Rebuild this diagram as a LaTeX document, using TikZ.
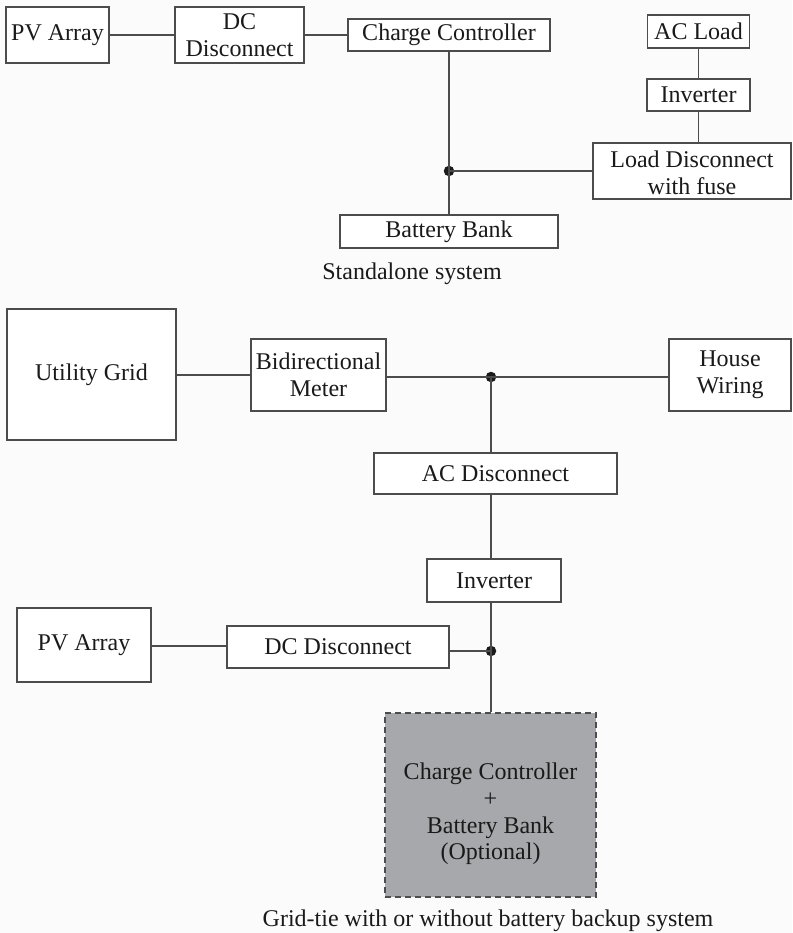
\documentclass[tikz,border=0pt]{standalone}
\usepackage{fontspec}
\setmainfont{Liberation Serif}
\definecolor{wire}{HTML}{4C4C4C}
\definecolor{ink}{HTML}{1A1A1A}
\definecolor{optfill}{HTML}{A7A8AB}
\definecolor{paper}{HTML}{FBFBFB}
\begin{document}
\begin{tikzpicture}[x=1pt,y=-1pt,
  every node/.style={text=ink, font=\fontsize{24}{26.7}\selectfont},
  blk/.style={draw=wire, line width=1.8pt, inner sep=0pt, align=center, fill=white},
  wirestyle/.style={draw=wire, line width=1.8pt},
  junction/.style={circle, fill=ink, inner sep=0pt, minimum size=10.5pt},
  optbox/.style={blk, fill=optfill, dash pattern=on 6pt off 4pt}
]
\fill[paper] (0,0) rectangle (792,933);
\useasboundingbox (0,0) rectangle (792,933);

% ---------- Standalone system ----------
\node[blk, minimum width=103pt, minimum height=56pt] (pv1) at (57.5,35) {PV Array};
\node[blk, minimum width=129pt, minimum height=56pt] (dc1) at (239.5,35) {DC\\Disconnect};
\node[blk, minimum width=202pt, minimum height=32pt] (cc1) at (449,35) {Charge Controller};
\node[blk, minimum width=218pt, minimum height=33pt] (bb1) at (449,231.5) {Battery Bank};
\node[blk, minimum width=102pt, minimum height=33pt] (acl) at (698.5,31.5) {AC Load};
\node[blk, minimum width=103pt, minimum height=32pt] (inv1) at (698.5,95) {Inverter};
\node[blk, minimum width=198pt, minimum height=56pt] (ld) at (692,171) {};
\node[align=center] (ldtext) at (692,173) {Load Disconnect\\with fuse};
\node[junction] (j1) at (449,171) {};
\node (cap1) at (412,274) {Standalone system};

\path[wirestyle] (pv1.east) -- (dc1.west);
\path[wirestyle] (dc1.east) -- (cc1.west);
\path[wirestyle] (cc1.south) -- (j1.center) -- (bb1.north);
\path[wirestyle] (j1.center) -- (ld.west);
\path[wirestyle] (acl.south) -- (inv1.north);
\path[wirestyle] (inv1.south) -- (inv1.south |- ld.north);

% ---------- Grid-tie system ----------
\node[blk, minimum width=169pt, minimum height=131pt] (ug) at (91.5,374.5) {Utility Grid};
\node[blk, minimum width=135pt, minimum height=72pt] (bm) at (318.5,375) {Bidirectional\\Meter};
\node[blk, minimum width=122pt, minimum height=72pt] (hw) at (730,375) {House\\Wiring};
\node[junction] (j2) at (491,377) {};
\node[blk, minimum width=243pt, minimum height=41pt] (acd) at (495.5,473.5) {AC Disconnect};
\node[blk, minimum width=134pt, minimum height=43pt] (inv2) at (494,580.5) {Inverter};
\node[blk, minimum width=134pt, minimum height=74pt] (pv2) at (84,645) {PV Array};
\node[blk, minimum width=222pt, minimum height=42pt] (dc2) at (338,647) {DC Disconnect};
\node[junction] (j3) at (491,651) {};
\node[optbox, minimum width=211pt, minimum height=184pt] (opt) at (490.5,805) {};
\node[align=center] (opttext) at (490.5,814) {Charge Controller\\+\\Battery Bank\\(Optional)};
\node (cap2) at (488,921) {Grid-tie with or without battery backup system};

\path[wirestyle] (ug.east |- bm.west) -- (bm.west);
\path[wirestyle] (bm.east |- j2) -- (j2.center) -- (hw.west |- j2);
\path[wirestyle] (j2.center) -- (j2 |- acd.north);
\path[wirestyle] (j2 |- acd.south) -- (j2 |- inv2.north);
\path[wirestyle] (j2 |- inv2.south) -- (j3.center) -- (j3 |- opt.north);
\path[wirestyle] (pv2.east |- 0,646) -- (dc2.west |- 0,646);
\path[wirestyle] (dc2.east |- j3) -- (j3.center);
\end{tikzpicture}
\end{document}
